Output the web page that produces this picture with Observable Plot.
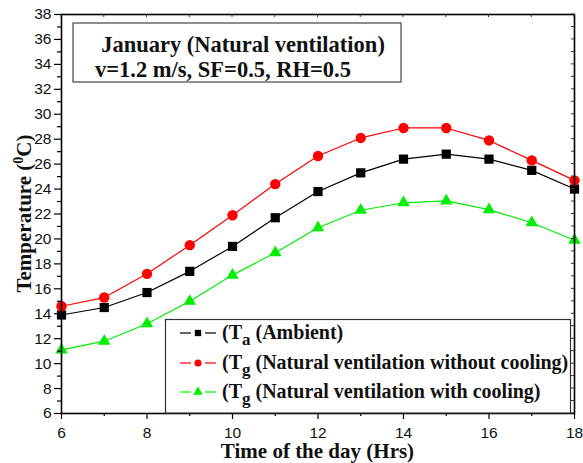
<!DOCTYPE html>
<html>
<head>
<meta charset="utf-8">
<script src="https://cdn.jsdelivr.net/npm/d3@7"></script>
<script src="https://cdn.jsdelivr.net/npm/@observablehq/plot@0.6"></script>
<style>
  html, body { margin: 0; padding: 0; background: #fff; }
  #chart svg { display: block; }
</style>
</head>
<body>
<div id="chart"></div>
<script>
const hours = [6, 7, 8, 9, 10, 11, 12, 13, 14, 15, 16, 17, 18];
const ambient = [13.9, 14.5, 15.7, 17.4, 19.4, 21.7, 23.8, 25.3, 26.4, 26.8, 26.4, 25.5, 24.0];
const withoutCooling = [14.6, 15.3, 17.2, 19.5, 21.9, 24.4, 26.65, 28.1, 28.9, 28.9, 27.9, 26.3, 24.7];
const withCooling = [11.1, 11.8, 13.2, 15.0, 17.1, 18.9, 20.9, 22.3, 22.9, 23.05, 22.35, 21.3, 19.9];

const xMajor = [6, 8, 10, 12, 14, 16, 18];
const xMinor = [7, 9, 11, 13, 15, 17];
const yMajor = [6, 8, 10, 12, 14, 16, 18, 20, 22, 24, 26, 28, 30, 32, 34, 36, 38];
const yMinor = [7, 9, 11, 13, 15, 17, 19, 21, 23, 25, 27, 29, 31, 33, 35, 37];

const series = [
  {key: "Ta", sub: "a", name: " (Ambient)", values: ambient, color: "#000000", symbol: "square", r: 5.2},
  {key: "Tg1", sub: "g", name: " (Natural ventilation without cooling)", values: withoutCooling, color: "#ff0000", symbol: "circle", r: 5.2},
  {key: "Tg2", sub: "g", name: " (Natural ventilation with cooling)", values: withCooling, color: "#00ee00", symbol: "triangle", r: 4.6}
];

const rows = series.flatMap(s => hours.map((h, i) => ({hour: h, temp: s.values[i], key: s.key})));

const tickFont = "Liberation Sans, Arial, sans-serif";
const serif = "Liberation Serif, Times New Roman, serif";

const marks = [];
for (const s of series) {
  const d = rows.filter(r => r.key === s.key);
  marks.push(Plot.line(d, {x: "hour", y: "temp", stroke: s.color, strokeWidth: 1.2}));
}
for (const s of series) {
  const d = rows.filter(r => r.key === s.key);
  marks.push(Plot.dot(d, {x: "hour", y: "temp", fill: s.color, stroke: "none", symbol: () => s.symbol, r: s.r}));
}

const chart = Plot.plot({
  width: 583,
  height: 463,
  marginLeft: 61,
  marginRight: 9,
  marginTop: 14,
  marginBottom: 50,
  style: {background: "#fff", fontFamily: tickFont},
  x: {domain: [6, 18]},
  y: {domain: [6, 38]},
  symbol: {type: "identity"},
  marks: [
    ...marks,
    Plot.axisX({ticks: xMajor, tickSize: 6, tickPadding: 7, fontSize: 15.5, label: null, strokeWidth: 1.2, fill: "#111"}),
    Plot.axisX({ticks: xMinor, tickSize: 3, tickFormat: () => "", label: null, strokeWidth: 1.2}),
    Plot.axisY({ticks: yMajor, tickSize: 7, tickPadding: 3, fontSize: 15.5, label: null, strokeWidth: 1.2, fill: "#111"}),
    Plot.axisY({ticks: yMinor, tickSize: 4, tickFormat: () => "", label: null, strokeWidth: 1.2}),
    Plot.frame({stroke: "#000", strokeWidth: 1.6})
  ]
});

document.getElementById("chart").appendChild(chart);

const svg = d3.select(chart);
const xs = chart.scale("x");
const ys = chart.scale("y");
const pTop = ys.apply(38), pBottom = ys.apply(6), pLeft = xs.apply(6), pRight = xs.apply(18);

// inner ticks on top and right edges
const g = svg.append("g").attr("stroke", "#333").attr("stroke-width", 1);
for (const t of [...xMajor, ...xMinor]) {
  const x = xs.apply(t);
  g.append("line").attr("x1", x).attr("x2", x).attr("y1", pTop).attr("y2", pTop + 3);
}
for (const t of [...yMajor, ...yMinor]) {
  const y = ys.apply(t);
  g.append("line").attr("x1", pRight).attr("x2", pRight - 3).attr("y1", y).attr("y2", y);
}

// axis titles
svg.append("text")
  .attr("x", (pLeft + pRight) / 2).attr("y", 458)
  .attr("text-anchor", "middle")
  .attr("font-family", serif).attr("font-weight", "bold").attr("font-size", 21)
  .attr("fill", "#111")
  .text("Time of the day (Hrs)");

const yl = svg.append("text")
  .attr("transform", `translate(31,${(pTop + pBottom) / 2}) rotate(-90)`)
  .attr("text-anchor", "middle")
  .attr("font-family", serif).attr("font-weight", "bold").attr("font-size", 21)
  .attr("fill", "#111");
yl.append("tspan").text("Temperature (");
yl.append("tspan").attr("dy", -8).attr("font-size", 14).text("0");
yl.append("tspan").attr("dy", 8).text("C)");

// annotation box
svg.append("rect").attr("x", 73).attr("y", 23).attr("width", 328).attr("height", 59)
  .attr("fill", "#fff").attr("stroke", "#444").attr("stroke-width", 1.2);
svg.append("text").attr("x", 243).attr("y", 52).attr("text-anchor", "middle")
  .attr("font-family", serif).attr("font-weight", "bold").attr("font-size", 22.5).attr("fill", "#111")
  .text("January (Natural ventilation)");
svg.append("text").attr("x", 95).attr("y", 77).attr("text-anchor", "start")
  .attr("font-family", serif).attr("font-weight", "bold").attr("font-size", 22.5).attr("fill", "#111")
  .text("v=1.2 m/s, SF=0.5, RH=0.5");

// legend
svg.append("rect").attr("x", 165.5).attr("y", 319.5).attr("width", 405).attr("height", pBottom - 319.5)
  .attr("fill", "#fff").attr("stroke", "#333").attr("stroke-width", 1.2);
const rowY = [333, 363, 392];
series.forEach((s, i) => {
  const y = rowY[i];
  const lg = svg.append("g");
  lg.append("line").attr("x1", 180).attr("x2", 191).attr("y1", y).attr("y2", y)
    .attr("stroke", s.color).attr("stroke-width", 1.2);
  lg.append("line").attr("x1", 205).attr("x2", 216).attr("y1", y).attr("y2", y)
    .attr("stroke", s.color).attr("stroke-width", 1.2);
  const sym = {square: d3.symbolSquare, circle: d3.symbolCircle, triangle: d3.symbolTriangle}[s.symbol];
  lg.append("path").attr("d", d3.symbol(sym, 40)()).attr("transform", `translate(198,${y})`)
    .attr("fill", s.color);
  const t = lg.append("text").attr("x", 222).attr("y", y + 6).attr("text-anchor", "start")
    .attr("font-family", serif).attr("font-weight", "bold").attr("font-size", 20).attr("fill", "#111");
  t.append("tspan").text("(T");
  t.append("tspan").attr("dy", 6).attr("font-size", 17).text(s.sub);
  t.append("tspan").attr("dy", -6).text(s.name);
});
</script>
</body>
</html>
